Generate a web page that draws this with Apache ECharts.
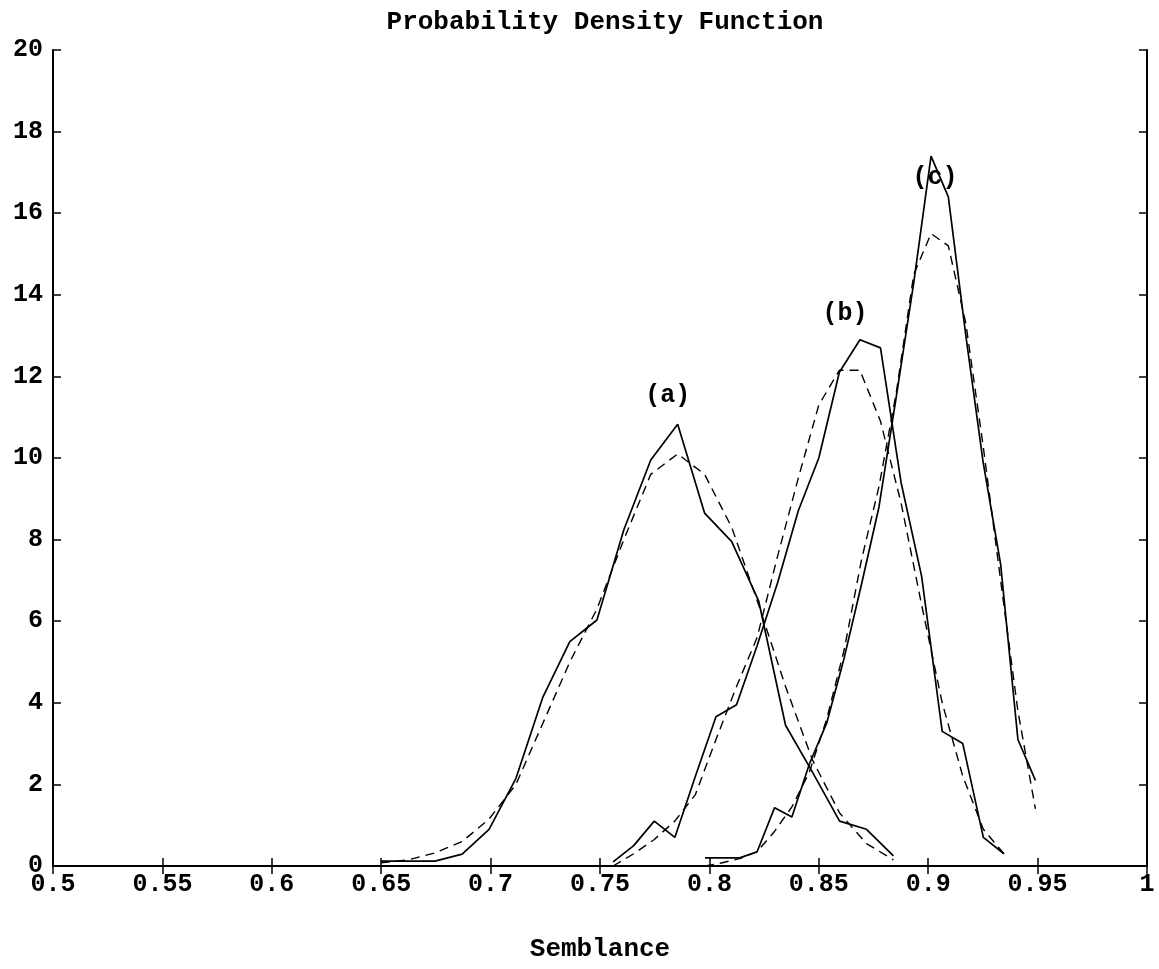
<!DOCTYPE html>
<html>
<head>
<meta charset="utf-8">
<script src="https://cdn.jsdelivr.net/npm/echarts@6/dist/echarts.min.js"></script>
<style>
html,body{margin:0;padding:0;background:#fff;}
#chart{width:1159px;height:969px;}
</style>
</head>
<body>
<div id="chart"></div>
<script>
// ---- data ----
const titleText = 'Probability Density Function';
const xAxisName = 'Semblance';

const aX = [0.650, 0.6623, 0.6746, 0.6870, 0.6993, 0.7116, 0.7239, 0.7362, 0.7486, 0.7609, 0.7732, 0.7855, 0.7978, 0.8102, 0.8225, 0.8348, 0.8471, 0.8595, 0.8718, 0.8841];
const aSolid = [0.12, 0.12, 0.12, 0.29, 0.9, 2.15, 4.14, 5.5, 6.03, 8.24, 9.95, 10.83, 8.65, 7.95, 6.5, 3.45, 2.3, 1.1, 0.9, 0.25];
const aDashed = [0.08, 0.15, 0.32, 0.6, 1.15, 2.0, 3.5, 5.0, 6.3, 8.0, 9.6, 10.1, 9.6, 8.3, 6.4, 4.4, 2.6, 1.3, 0.55, 0.15];

const bX = [0.756, 0.7654, 0.7748, 0.7842, 0.7936, 0.803, 0.8124, 0.8218, 0.8312, 0.8406, 0.85, 0.8594, 0.8688, 0.8782, 0.8876, 0.897, 0.9064, 0.9158, 0.9252, 0.9346];
const bSolid = [0.1, 0.5, 1.1, 0.7, 2.2, 3.66, 3.95, 5.4, 6.95, 8.7, 10.0, 12.1, 12.9, 12.7, 9.4, 7.1, 3.3, 3.0, 0.7, 0.3];
const bDashed = [0.0, 0.3, 0.65, 1.1, 1.75, 3.1, 4.4, 5.6, 7.6, 9.5, 11.3, 12.15, 12.15, 10.9, 8.9, 6.4, 4.0, 2.2, 0.9, 0.3];

const cX = [0.798, 0.8059, 0.8139, 0.8218, 0.8298, 0.8377, 0.8457, 0.8536, 0.8616, 0.8695, 0.8775, 0.8854, 0.8934, 0.9013, 0.9092, 0.9172, 0.9251, 0.9331, 0.9410, 0.9490];
const cSolid = [0.2, 0.2, 0.2, 0.35, 1.43, 1.2, 2.5, 3.5, 5.1, 6.9, 8.8, 11.5, 14.3, 17.4, 16.4, 13.0, 9.9, 7.4, 3.1, 2.1];
const cDashed = [0.0, 0.08, 0.18, 0.35, 0.85, 1.45, 2.3, 3.6, 5.3, 7.5, 9.3, 11.6, 14.5, 15.5, 15.2, 13.3, 10.3, 7.0, 3.8, 1.4];

const labelX = [0.781, 0.862, 0.9031];
const labelY = [11.53, 13.53, 16.88];
const labelText = ['(a)', '(b)', '(c)'];

// ---- chart ----
const FONT = 'Liberation Mono';
function pairs(xs, ys) { return xs.map((x, i) => [x, ys[i]]); }
const solidStyle = { color: '#000', width: 1.7, type: 'solid' };
const dashStyle = { color: '#000', width: 1.4, type: [9, 6] };
function line(name, xs, ys, style) {
  return { name, type: 'line', data: pairs(xs, ys), showSymbol: false, symbol: 'none',
    lineStyle: style, itemStyle: { color: '#000' }, animation: false, z: 3 };
}

const chart = echarts.init(document.getElementById('chart'), null, { renderer: 'canvas' });
const axisLine = { show: true, lineStyle: { color: '#000', width: 2 } };
const tick = { show: true, inside: true, length: 8, lineStyle: { color: '#000', width: 1.5 } };
const lab = { color: '#000', fontFamily: FONT, fontWeight: 'bold', fontSize: 25 };

chart.setOption({
  backgroundColor: '#fff',
  animation: false,
  title: {
    text: titleText, left: 600, top: 4, textAlign: 'center',
    textStyle: { fontFamily: FONT, fontWeight: 'bold', fontSize: 26, color: '#000' }
  },
  grid: { left: 53, right: 12, top: 50, bottom: 103, containLabel: false, outerBoundsMode: 'none' },
  xAxis: [
    { type: 'value', min: 0.5, max: 1, interval: 0.05, position: 'bottom',
      axisLine, axisTick: tick, splitLine: { show: false },
      axisLabel: Object.assign({ margin: 6 }, lab),
      name: xAxisName, nameLocation: 'middle', nameGap: 70,
      nameTextStyle: { fontFamily: FONT, fontWeight: 'bold', fontSize: 26, color: '#000' } },
    { type: 'value', min: 0.5, max: 1, interval: 0.05, position: 'top',
      axisLine, axisTick: tick, splitLine: { show: false }, axisLabel: { show: false } }
  ],
  yAxis: [
    { type: 'value', min: 0, max: 20, interval: 2, position: 'left',
      axisLine, axisTick: tick, splitLine: { show: false },
      axisLabel: Object.assign({ margin: 10 }, lab) },
    { type: 'value', min: 0, max: 20, interval: 2, position: 'right',
      axisLine, axisTick: tick, splitLine: { show: false }, axisLabel: { show: false } }
  ],
  series: [
    line('a-solid', aX, aSolid, solidStyle),
    line('a-dashed', aX, aDashed, dashStyle),
    line('b-solid', bX, bSolid, solidStyle),
    line('b-dashed', bX, bDashed, dashStyle),
    line('c-solid', cX, cSolid, solidStyle),
    line('c-dashed', cX, cDashed, dashStyle),
    { type: 'scatter', symbolSize: 0, animation: false, z: 5,
      itemStyle: { color: '#000', opacity: 1 },
      data: labelX.map((x, i) => ({ value: [x, labelY[i]], name: labelText[i] })),
      label: { show: true, position: 'inside', formatter: p => p.name, opacity: 1,
        textBorderWidth: 0, textBorderColor: 'transparent',
        fontFamily: FONT, fontWeight: 'bold', fontSize: 25, color: '#000' } }
  ]
});
</script>
</body>
</html>
